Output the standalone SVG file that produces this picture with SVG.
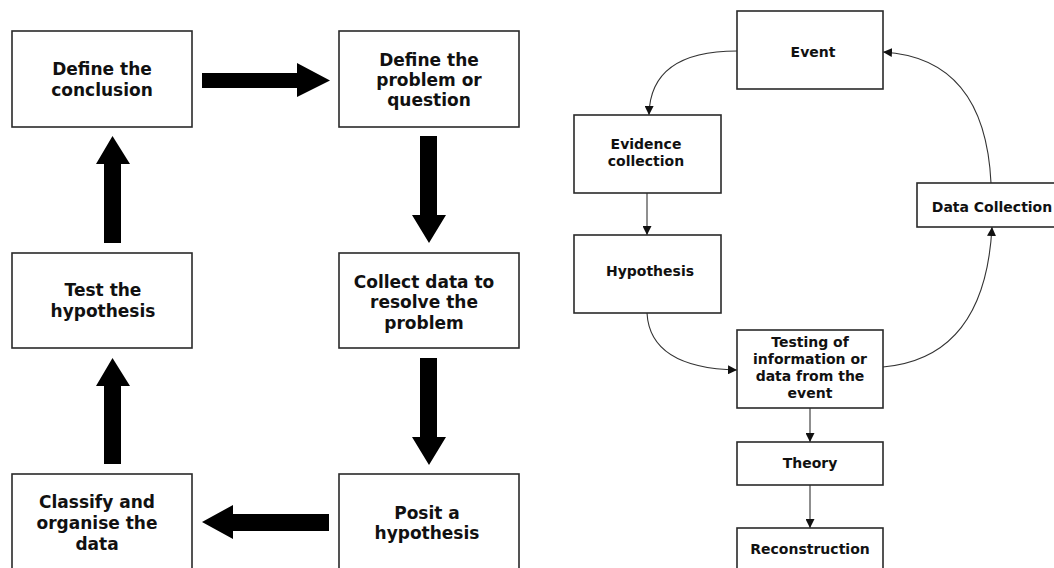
<svg xmlns="http://www.w3.org/2000/svg" width="1054" height="568" viewBox="0 0 1054 568">
<style>
.box{fill:#fff;stroke:#2a2a2a;stroke-width:1.6}
.big{font-family:"DejaVu Sans",Verdana,sans-serif;font-weight:bold;font-size:17px;fill:#111;text-anchor:middle}
.sm{font-family:"DejaVu Sans",Verdana,sans-serif;font-weight:bold;font-size:14px;fill:#111;text-anchor:middle}
.fat{fill:#000}
.thin{fill:none;stroke:#333;stroke-width:1.1}
</style>
<defs>
<marker id="ah" viewBox="0 0 10 10" refX="10" refY="5" markerWidth="9" markerHeight="9" markerUnits="userSpaceOnUse" orient="auto">
<path d="M0,0 L10,5 L0,10 z" fill="#111"/>
</marker>
</defs>
<rect width="1054" height="568" fill="#fff"/>
<g id="connectors">
<polygon class="fat" points="202,73 297,73 297,63 330,80.5 297,97 297,88 202,88"/>
<polygon class="fat" points="420,136 437,136 437,215 446,215 429,243 412,215 420,215"/>
<polygon class="fat" points="420,358 437,358 437,437 446,437 429,465 412,437 420,437"/>
<polygon class="fat" points="104,243 121,243 121,164 130,164 112.5,136 96,164 104,164"/>
<polygon class="fat" points="104,464 121,464 121,386 130,386 112.5,358 96,386 104,386"/>
<polygon class="fat" points="329,514 329,531 233,531 233,539 202,522 233,505 233,514"/>
<path class="thin" marker-end="url(#ah)" d="M737,51 Q650,51 649,115"/>
<path class="thin" marker-end="url(#ah)" d="M647,193 L647,235"/>
<path class="thin" marker-end="url(#ah)" d="M647,313 Q650,368 737,370"/>
<path class="thin" marker-end="url(#ah)" d="M883,367 Q985,358 992,227"/>
<path class="thin" marker-end="url(#ah)" d="M991,183 Q985,58 883,52"/>
<path class="thin" marker-end="url(#ah)" d="M810,408 L810,442"/>
<path class="thin" marker-end="url(#ah)" d="M810,485 L810,528"/>
</g>
<g id="n-conclusion">
<rect class="box" x="12" y="31" width="180" height="96"/>
<text class="big" x="102" y="75">Define the</text>
<text class="big" x="102" y="96">conclusion</text>
</g>
<g id="n-problem">
<rect class="box" x="339" y="31" width="180" height="96"/>
<text class="big" x="429" y="66">Define the</text>
<text class="big" x="429" y="86">problem or</text>
<text class="big" x="429" y="106">question</text>
</g>
<g id="n-test">
<rect class="box" x="12" y="253" width="180" height="95"/>
<text class="big" x="103" y="296">Test the</text>
<text class="big" x="103" y="317">hypothesis</text>
</g>
<g id="n-collect">
<rect class="box" x="339" y="253" width="180" height="95"/>
<text class="big" x="424" y="288">Collect data to</text>
<text class="big" x="424" y="308">resolve the</text>
<text class="big" x="424" y="329">problem</text>
</g>
<g id="n-classify">
<rect class="box" x="12" y="474" width="180" height="100"/>
<text class="big" x="97" y="508">Classify and</text>
<text class="big" x="97" y="529">organise the</text>
<text class="big" x="97" y="550">data</text>
</g>
<g id="n-posit">
<rect class="box" x="339" y="474" width="180" height="100"/>
<text class="big" x="427" y="519">Posit a</text>
<text class="big" x="427" y="539">hypothesis</text>
</g>
<g id="n-event">
<rect class="box" x="737" y="11" width="146" height="78"/>
<text class="sm" x="813" y="57">Event</text>
</g>
<g id="n-evidence">
<rect class="box" x="574" y="115" width="147" height="78"/>
<text class="sm" x="646" y="149">Evidence</text>
<text class="sm" x="646" y="166">collection</text>
</g>
<g id="n-hypothesis">
<rect class="box" x="574" y="235" width="147" height="78"/>
<text class="sm" x="650" y="276">Hypothesis</text>
</g>
<g id="n-datacollection">
<rect class="box" x="917" y="183" width="140" height="44"/>
<text class="sm" x="992" y="212">Data Collection</text>
</g>
<g id="n-testing">
<rect class="box" x="737" y="330" width="146" height="78"/>
<text class="sm" x="810" y="347">Testing of</text>
<text class="sm" x="810" y="364">information or</text>
<text class="sm" x="810" y="381">data from the</text>
<text class="sm" x="810" y="398">event</text>
</g>
<g id="n-theory">
<rect class="box" x="737" y="442" width="146" height="43"/>
<text class="sm" x="810" y="468">Theory</text>
</g>
<g id="n-reconstruction">
<rect class="box" x="737" y="528" width="146" height="50"/>
<text class="sm" x="810" y="554">Reconstruction</text>
</g>
</svg>
